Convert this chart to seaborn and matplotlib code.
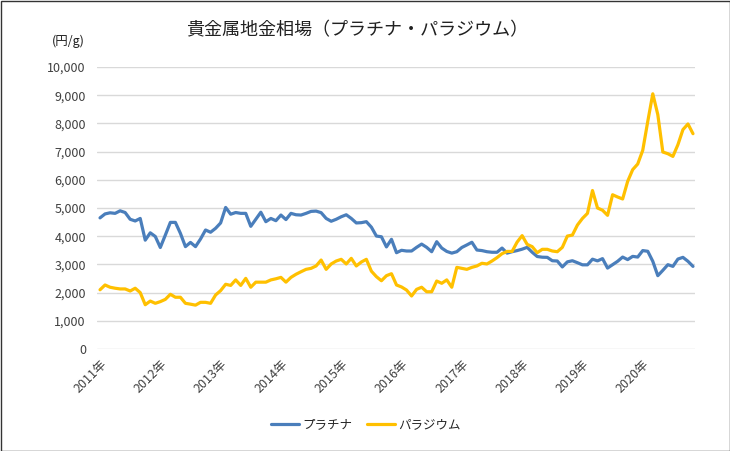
import numpy as np
import pandas as pd
import matplotlib
matplotlib.use("Agg")
import matplotlib.pyplot as plt
import seaborn as sns
from matplotlib.ticker import FuncFormatter

# 月次データ 2011年1月〜2020年11月 (円/g)
platinum = [
    4650, 4790, 4830, 4810, 4900, 4840, 4600, 4540, 4630, 3860, 4120, 3990,
    3600, 4040, 4490, 4490, 4100, 3630, 3780, 3630, 3900, 4220, 4140, 4280,
    4470, 5020, 4780, 4840, 4810, 4810, 4350, 4600, 4850, 4515, 4630, 4550,
    4750, 4590, 4810, 4760, 4750, 4810, 4880, 4890, 4835, 4630, 4530, 4600,
    4690, 4760, 4630, 4470, 4480, 4515, 4320, 4005, 3980, 3620, 3890, 3415,
    3500, 3475, 3475, 3605, 3720, 3605, 3450, 3805, 3580, 3460, 3400, 3450,
    3600, 3690, 3785, 3510, 3490, 3450, 3430, 3430, 3580, 3400, 3450, 3490,
    3540, 3605, 3430, 3280, 3255, 3250, 3130, 3120, 2910, 3090, 3130, 3060,
    2985, 2985, 3185, 3125, 3205, 2870, 2990, 3110, 3260, 3170, 3285, 3260,
    3490, 3465, 3110, 2600, 2790, 2990, 2930, 3190, 3250, 3110, 2930,
]
palladium = [
    2100, 2270, 2190, 2155, 2130, 2130, 2057, 2155, 2000, 1570, 1700, 1620,
    1680, 1760, 1940, 1835, 1835, 1620, 1590, 1555, 1655, 1655, 1620, 1915,
    2070, 2295, 2255, 2450, 2255, 2505, 2190, 2370, 2370, 2370, 2450, 2490,
    2540, 2370, 2540, 2650, 2740, 2825, 2860, 2945, 3155, 2825, 3015, 3120,
    3180, 3015, 3215, 2945, 3085, 3180, 2760, 2565, 2420, 2600, 2670, 2270,
    2200, 2090, 1880, 2115, 2190, 2030, 2030, 2410, 2330, 2450, 2190, 2895,
    2860, 2825, 2895, 2945, 3040, 3015, 3120, 3240, 3380, 3460, 3460, 3790,
    4020, 3710, 3630, 3415, 3535, 3535, 3475, 3450, 3605, 4005, 4040, 4395,
    4630, 4810, 5620, 5000, 4920, 4740, 5470, 5390, 5320, 5945, 6360, 6560,
    7045, 8070, 9050, 8310, 6985, 6925, 6830, 7245, 7780, 7980, 7635,
]
year_labels = [f"{y}年" for y in range(2011, 2021)]
series_names = ["プラチナ", "パラジウム"]
colors = ["#4A7EBB", "#FFC000"]

months = np.arange(len(platinum))
df = pd.DataFrame({
    "month": np.concatenate([months, months]),
    "price": platinum + palladium,
    "metal": [series_names[0]] * len(platinum) + [series_names[1]] * len(palladium),
})

sns.set_style("white")
plt.rcParams["font.family"] = ["Noto Sans CJK JP", "DejaVu Sans"]

fig = plt.figure(figsize=(7.3, 4.51), dpi=100)
ax = fig.add_axes([97 / 730, 1 - 349 / 451, 598 / 730, 282 / 451])

sns.lineplot(data=df, x="month", y="price", hue="metal", palette=colors,
             linewidth=2.3, ax=ax, legend=False)

ax.set_xlim(-0.6, len(platinum) - 0.6)
ax.set_ylim(0, 10000)
ax.set_yticks(range(0, 10001, 1000))
ax.yaxis.set_major_formatter(FuncFormatter(lambda v, p: f"{int(v):,}"))
ax.set_xticks(range(0, len(platinum), 12))
ax.set_xticklabels(year_labels, rotation=45, ha="right", rotation_mode="anchor")
ax.tick_params(axis="both", length=0, labelsize=9, colors="#404040")
ax.tick_params(axis="y", pad=8)
ax.tick_params(axis="x", pad=6)
ax.grid(axis="y", color="#D9D9D9", linewidth=1)
ax.grid(axis="x", visible=False)
ax.set_axisbelow(True)
for s in ax.spines.values():
    s.set_visible(False)
ax.set_xlabel("")
ax.set_ylabel("")

fig.text(357 / 730, 1 - 30 / 451, "貴金属地金相場（プラチナ・パラジウム）",
         ha="center", va="center", fontsize=13, color="#202020")
fig.text(68 / 730, 1 - 41 / 451, "(円/g)", ha="center", va="center",
         fontsize=9, color="#202020")

handles = [plt.Line2D([], [], color=c, linewidth=2.3) for c in colors]
fig.legend(handles, series_names, loc="center", bbox_to_anchor=(366 / 730, 1 - 425 / 451),
           ncol=2, frameon=False, fontsize=9, handlelength=2.2, columnspacing=1.2,
           handletextpad=0.3)

fig.patches.append(plt.Rectangle((0.5 / 730, 0.5 / 451), 729 / 730, 450 / 451,
                                 transform=fig.transFigure, fill=False,
                                 edgecolor="#333333", linewidth=1))

fig.savefig("out.png", dpi=100)
